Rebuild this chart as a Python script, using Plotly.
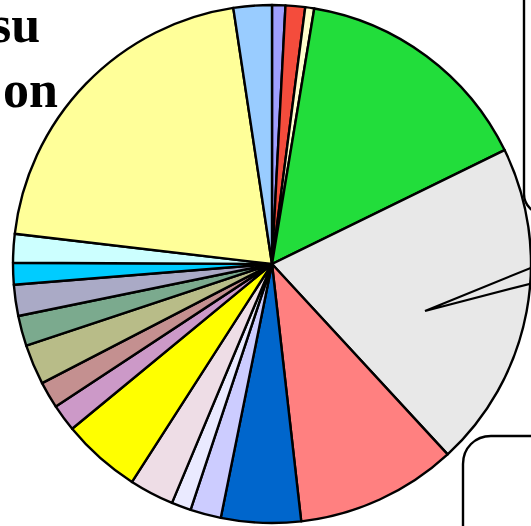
import plotly.graph_objects as go

# Slice data (percent shares, clockwise from 12 o'clock)
labels = ["A", "B", "C", "D", "E", "F", "G", "H", "I", "J",
          "K", "L", "M", "N", "O", "P", "Q", "R", "S", "T"]
values = [0.83, 1.22, 0.56, 15.14, 20.39, 10.06, 4.97, 1.92, 1.22, 2.78,
          4.94, 1.69, 1.67, 2.50, 1.89, 1.94, 1.36, 1.78, 20.75, 2.39]
colors = ["#9F9FFF", "#F44C3C", "#FFFFCC", "#22DD3B", "#E8E8E8", "#FF8080",
          "#0066CC", "#CCCCFF", "#EAEAFF", "#EEDDE6", "#FFFF00", "#CC99C8",
          "#C49090", "#B8BC88", "#7BAA8E", "#AAAAC6", "#00CCFF", "#CCFFFF",
          "#FFFF99", "#99CCFF"]
title_fragments = ["su", "on"]

W, H = 531, 526


def px(x, y):
    return x / W, 1 - y / H


def path(points):
    parts = []
    for cmd, pts in points:
        coords = " ".join(f"{px(a, b)[0]:.5f},{px(a, b)[1]:.5f}" for a, b in pts)
        parts.append(f"{cmd} {coords}")
    return " ".join(parts)


fig = go.Figure()
fig.add_trace(go.Pie(
    labels=labels, values=values, sort=False, direction="clockwise", rotation=0,
    marker=dict(colors=colors, line=dict(color="black", width=2.4)),
    textinfo="none", hoverinfo="label+percent", showlegend=False,
    domain=dict(x=[13 / W, 1.0], y=[1 - 523 / H, 1 - 5 / H]),
))

shapes = [
    # right box edge with rounded corner
    dict(type="path", xref="paper", yref="paper",
         path=path([("M", [(524, -2)]), ("L", [(524, 194)]),
                    ("C", [(524, 205), (533, 214), (544, 214)])]),
         line=dict(color="black", width=2.4)),
    # callout tail
    dict(type="path", xref="paper", yref="paper",
         path=path([("M", [(533, 267)]), ("L", [(425, 311)]), ("L", [(533, 283)])]),
         line=dict(color="black", width=2.2)),
    # bottom-right rounded box
    dict(type="path", xref="paper", yref="paper",
         path=path([("M", [(463, 530)]), ("L", [(463, 464)]),
                    ("C", [(463, 448), (475, 436), (491, 436)]), ("L", [(535, 436)])]),
         line=dict(color="black", width=2.4)),
]

annotations = [
    dict(text=f"<b>{title_fragments[0]}</b>", x=42 / W, y=1 - 55 / H,
         xref="paper", yref="paper", xanchor="right", yanchor="bottom",
         showarrow=False, font=dict(family="Liberation Serif", size=52, color="black")),
    dict(text=f"<b>{title_fragments[1]}</b>", x=60 / W, y=1 - 120 / H,
         xref="paper", yref="paper", xanchor="right", yanchor="bottom",
         showarrow=False, font=dict(family="Liberation Serif", size=52, color="black")),
]

fig.update_layout(
    width=W, height=H, autosize=False,
    margin=dict(l=0, r=0, t=0, b=0),
    paper_bgcolor="white", plot_bgcolor="white",
    shapes=shapes, annotations=annotations,
)

fig.write_html("out.html", config={"displayModeBar": False},
               post_script="document.body.style.margin='0';document.body.style.overflow='hidden';")
